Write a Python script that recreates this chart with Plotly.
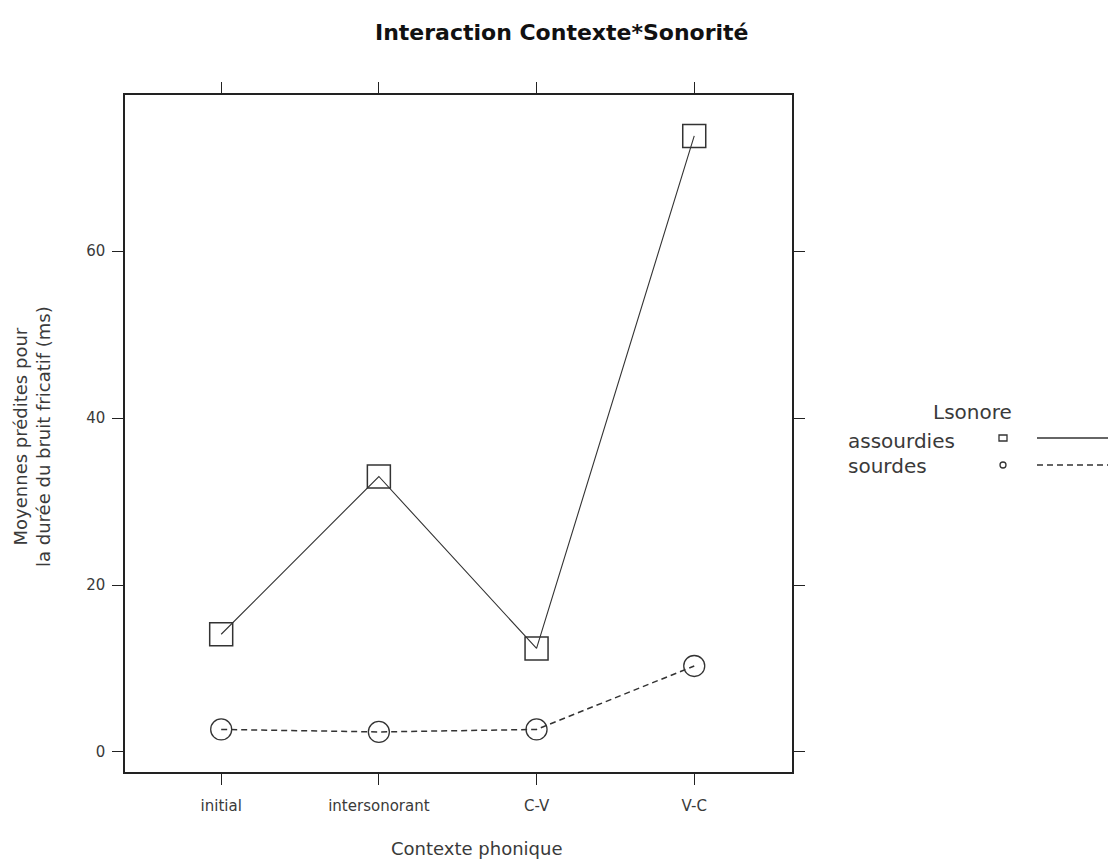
import plotly.graph_objects as go

# Predicted means of fricative noise duration by phonetic context
contextes = ["initial", "intersonorant", "C-V", "V-C"]
assourdies = [14.1, 33.0, 12.4, 73.8]
sourdes = [2.7, 2.4, 2.7, 10.3]
y_ticks = [0, 20, 40, 60]

x_idx = list(range(len(contextes)))
ink = "#333333"
txt = "#3a3a3a"
font_family = "DejaVu Sans, Verdana, sans-serif"

fig = go.Figure()

fig.add_trace(go.Scatter(
    x=x_idx, y=assourdies, mode="lines+markers", name="assourdies",
    line=dict(color=ink, width=1.1),
    marker=dict(symbol="square-open", size=23, color=ink, line=dict(width=1.5)),
))
fig.add_trace(go.Scatter(
    x=x_idx, y=sourdes, mode="lines+markers", name="sourdes",
    line=dict(color=ink, width=1.5, dash="6px,4px"),
    marker=dict(symbol="circle-open", size=21, color=ink, line=dict(width=1.3)),
))

axis_common = dict(
    showline=True, linecolor="#222222", linewidth=1.5, mirror="ticks",
    ticks="outside", tickcolor="#222222", tickwidth=1.3,
    showgrid=False, zeroline=False,
    tickfont=dict(size=15, color=txt, family=font_family),
)

fig.update_layout(
    width=1108, height=860,
    margin=dict(l=125, r=316, t=95, b=88),
    paper_bgcolor="white", plot_bgcolor="white",
    showlegend=False,
    font=dict(family=font_family, color=txt),
    title=dict(
        text="<b>Interaction Contexte*Sonorité</b>",
        x=0.507, xanchor="center", y=0.963, yanchor="middle",
        font=dict(size=22, color="#111111", family=font_family),
    ),
    xaxis=dict(
        axis_common, range=[-0.61, 3.62],
        tickmode="array", tickvals=x_idx, ticktext=contextes, ticklen=11,
        ticklabelstandoff=8, title=None,
    ),
    yaxis=dict(
        axis_common, range=[-2.4, 78.7],
        tickmode="array", tickvals=y_ticks, ticklen=11,
        ticklabelstandoff=4, title=None,
    ),
)


# paper coordinates from pixel positions in the 1108x860 canvas
def px(xpix):
    return (xpix - 125) / 667.0


def py(ypix):
    return (772 - ypix) / 677.0


# Axis titles
fig.add_annotation(
    text="Contexte phonique", xref="paper", yref="paper",
    x=px(476), y=py(848), xanchor="center", yanchor="middle", showarrow=False,
    font=dict(size=18, color=txt, family=font_family),
)
fig.add_annotation(
    text="Moyennes prédites pour<br>la durée du bruit fricatif (ms)",
    xref="paper", yref="paper", x=px(32), y=py(437),
    xanchor="center", yanchor="middle", textangle=-90, showarrow=False,
    font=dict(size=18, color=txt, family=font_family),
)

# Key: title, labels, point symbols and line styles
fig.add_annotation(text="Lsonore", xref="paper", yref="paper",
                   x=px(972), y=py(412), xanchor="center", yanchor="middle",
                   showarrow=False, font=dict(size=20, color=txt))
for label, ypix in [("assourdies", 441), ("sourdes", 466)]:
    fig.add_annotation(text=label, xref="paper", yref="paper",
                       x=px(846), y=py(ypix), xanchor="left", yanchor="middle",
                       showarrow=False, font=dict(size=20, color=txt))

fig.add_shape(type="rect", xref="paper", yref="paper",
              x0=px(999), x1=px(1007), y0=py(441), y1=py(435),
              line=dict(color=ink, width=1.3))
fig.add_shape(type="circle", xref="paper", yref="paper",
              x0=px(1000), x1=px(1006), y0=py(468), y1=py(462),
              line=dict(color=ink, width=1.3))
fig.add_shape(type="line", xref="paper", yref="paper",
              x0=px(1037), x1=px(1110), y0=py(438), y1=py(438),
              line=dict(color=ink, width=1.4))
fig.add_shape(type="line", xref="paper", yref="paper",
              x0=px(1037), x1=px(1110), y0=py(465), y1=py(465),
              line=dict(color=ink, width=1.4, dash="6px,4px"))

fig.write_html("out.html")
